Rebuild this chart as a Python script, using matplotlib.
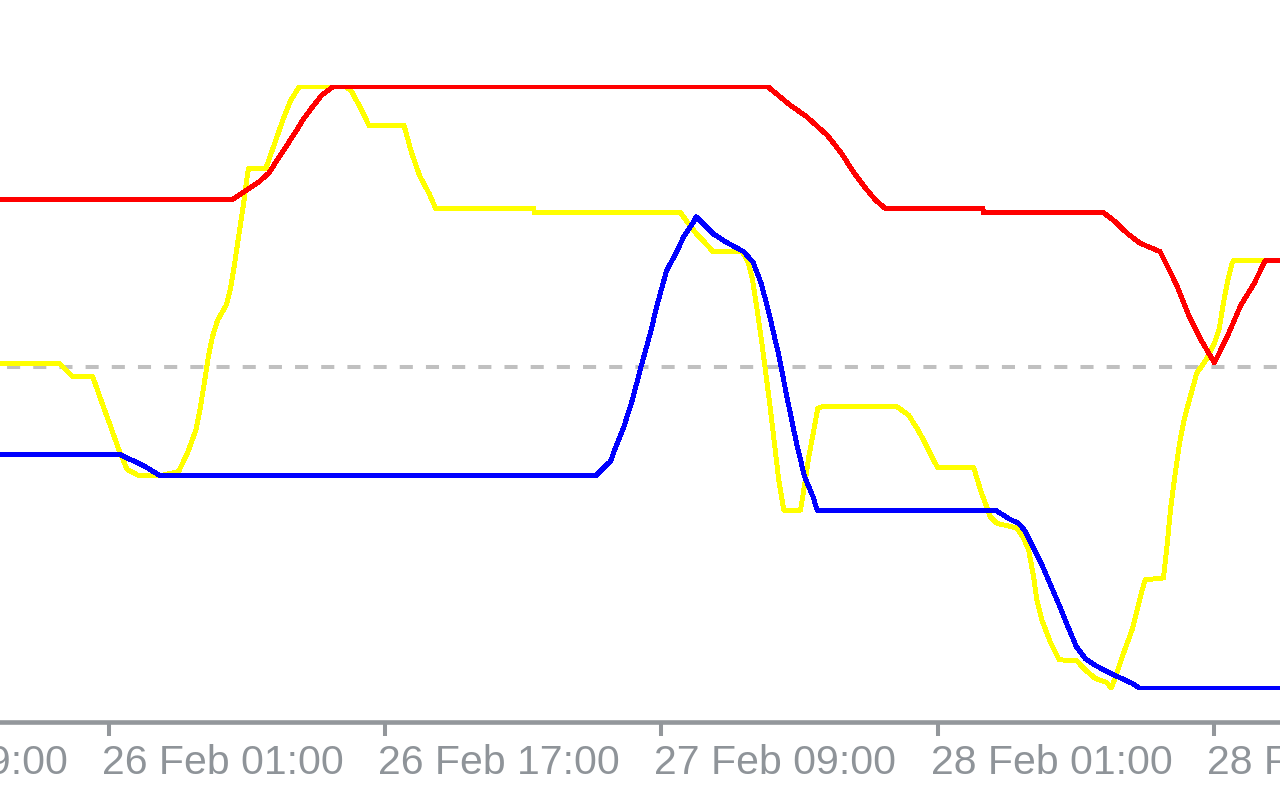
import numpy as np
import pandas as pd
import matplotlib
matplotlib.use("Agg")
import matplotlib.pyplot as plt
import matplotlib.dates as mdates
from matplotlib.transforms import ScaledTranslation

# ---- data (hours relative to 26 Feb 01:00, indicator value) ----
BASE = pd.Timestamp("2025-02-26 01:00")

red_h = [-6.4, 7.16, 7.93, 8.68, 9.26, 9.78, 10.28, 10.78, 11.27, 11.79, 12.31, 12.95,
         38.18, 38.77, 39.35, 40.43, 41.59, 42.36, 43.23, 43.81, 44.39, 44.96,
         50.62, 50.63, 57.60, 58.27, 58.95, 59.72, 60.88, 61.17, 61.81, 62.52, 63.29,
         64.02, 64.80, 65.55, 66.32, 66.96, 68.0]
red_v = [81.3, 81.3, 82.75, 84.2, 85.7, 88.0, 90.2, 92.4, 94.7, 96.7, 98.6, 100.0,
         100.0, 98.6, 97.2, 95.0, 92.0, 89.2, 85.4, 83.2, 81.2, 79.8,
         79.8, 79.1, 79.1, 77.6, 75.7, 74.0, 72.6, 70.9, 67.2, 62.1, 57.7,
         54.1, 58.7, 63.7, 67.3, 71.1, 71.1]

yellow_h = [-6.4, -2.88, -2.10, -0.94, -0.46, 0.06, 0.54, 1.04, 1.75, 2.91, 4.03, 4.55,
            5.03, 5.28, 5.52, 5.77, 6.00, 6.29, 6.79, 7.02, 7.25, 7.54, 7.80, 8.03,
            8.10, 9.09, 9.57, 10.07, 10.53, 11.01, 13.72, 14.00, 14.54, 15.06, 17.09,
            17.53, 18.01, 18.54, 18.92, 24.61, 24.62, 33.10, 33.55, 34.07, 34.55, 34.99,
            36.67, 37.02, 37.27, 37.54, 37.79, 38.04, 38.31, 38.54, 38.79, 39.02, 39.08,
            40.05, 40.24, 40.53, 40.82, 41.05, 41.30, 45.64, 46.31, 46.80, 47.28, 47.80,
            47.99, 50.08, 50.50, 51.04, 51.43, 52.59, 52.97, 53.26, 53.55, 53.74, 54.03,
            54.51, 55.03, 56.06, 56.54, 57.12, 57.79, 58.04, 58.27, 58.76, 59.28, 59.76,
            60.01, 61.07, 61.27, 61.50, 61.75, 62.00, 62.27, 62.52, 63.00, 63.54, 64.02,
            64.29, 64.54, 64.80, 65.04, 65.16, 68.0]
yellow_v = [54.0, 54.0, 51.8, 51.8, 47.9, 43.8, 39.9, 36.4, 35.3, 35.3, 36.0, 39.1,
            42.9, 46.5, 50.7, 55.4, 58.5, 61.2, 63.7, 66.2, 70.1, 75.7, 80.7, 85.6,
            86.5, 86.5, 90.4, 94.5, 97.8, 100.0, 100.0, 99.5, 96.7, 93.6, 93.6,
            89.0, 85.1, 82.3, 79.8, 79.8, 79.1, 79.1, 77.3, 75.4, 74.0, 72.6,
            72.6, 70.9, 67.9, 62.9, 57.9, 52.4, 46.3, 40.7, 34.6, 30.7, 29.6,
            29.6, 32.9, 38.5, 42.9, 46.5, 46.8, 46.8, 45.4, 43.2, 40.7, 37.7,
            36.7, 36.7, 32.7, 28.5, 27.4, 26.6, 24.9, 23.0, 18.5, 14.6, 11.3,
            7.7, 4.7, 4.5, 3.0, 1.6, 0.9, 0.0, 1.6, 5.8, 9.9, 15.5,
            18.0, 18.3, 23.5, 30.2, 35.7, 40.7, 44.6, 47.4, 52.4, 54.6, 57.4,
            59.6, 64.0, 67.9, 70.7, 71.2, 71.2]

blue_h = [-6.4, 0.69, 1.08, 1.66, 2.18, 2.97, 28.18, 28.66, 29.05, 29.28, 29.79, 30.31,
          30.79, 31.31, 31.81, 32.29, 32.81, 33.29, 33.80, 34.01, 34.55, 35.03, 35.80,
          36.76, 37.31, 37.79, 38.27, 38.79, 39.28, 39.80, 40.28, 40.78, 41.01, 51.33,
          52.16, 52.68, 53.01, 53.51, 54.03, 54.51, 55.03, 55.54, 56.02, 56.54, 57.16,
          58.18, 59.24, 59.68, 68.0]
blue_v = [38.8, 38.8, 38.2, 37.5, 36.7, 35.3, 35.3, 36.7, 37.7, 39.6, 43.2, 47.9,
          53.2, 58.6, 64.4, 69.4, 72.2, 75.1, 77.3, 78.4, 76.9, 75.5, 74.1,
          72.6, 70.8, 67.2, 61.8, 55.4, 48.2, 41.0, 35.2, 31.8, 29.6, 29.6,
          28.1, 27.4, 26.3, 23.5, 20.5, 17.3, 13.8, 10.2, 6.9, 4.9, 3.7,
          2.2, 0.8, 0.0, 0.0]

level = 53.4
tick_times = pd.date_range("2025-02-25 09:00", periods=6, freq="16h")
x_range_h = (-6.31, 67.82)
y_range = (-5.74, 114.48)


def to_time(hours):
    return BASE + pd.to_timedelta(np.asarray(hours), unit="h")


# ---- figure ----
fig = plt.figure(figsize=(12.8, 8), dpi=100)
fig.patch.set_facecolor("white")
ax = fig.add_axes([0, 0.0969, 1, 1 - 0.0969])
ax.set_facecolor("white")

ax.axhline(level, color="#c0c0c0", lw=2.9, linestyle=(4.75, (3.25, 3.25)), zorder=1)
ax.plot(to_time(yellow_h), yellow_v, color="#ffff00", lw=2.8, antialiased=False, zorder=2)
ax.plot(to_time(blue_h), blue_v, color="#0000ff", lw=2.8, antialiased=False, zorder=3)
ax.plot(to_time(red_h), red_v, color="#ff0000", lw=2.8, antialiased=False, zorder=4)

for s in ("top", "left", "right"):
    ax.spines[s].set_visible(False)
ax.spines["bottom"].set_color("#93979b")
ax.spines["bottom"].set_linewidth(3.3)
ax.set_yticks([])

ax.set_xticks(tick_times)
ax.tick_params(axis="x", direction="out", length=10.4, width=2.9, color="#93979b",
               labelbottom=False)
ax.set_xlim(to_time([x_range_h[0]])[0], to_time([x_range_h[1]])[0])
ax.set_ylim(*y_range)

# tick labels: left-aligned at each tick, grey
label_offset = ScaledTranslation(-7 / 100, -22 / 100, fig.dpi_scale_trans)
for t in tick_times:
    ax.text(mdates.date2num(t), 0, t.strftime("%d %b %H:%M"),
            transform=ax.get_xaxis_transform() + label_offset,
            ha="left", va="top", fontsize=29.5, color="#8f9499",
            family=["Liberation Sans", "DejaVu Sans"], clip_on=False)

fig.savefig("out.png", dpi=100, facecolor="white")
